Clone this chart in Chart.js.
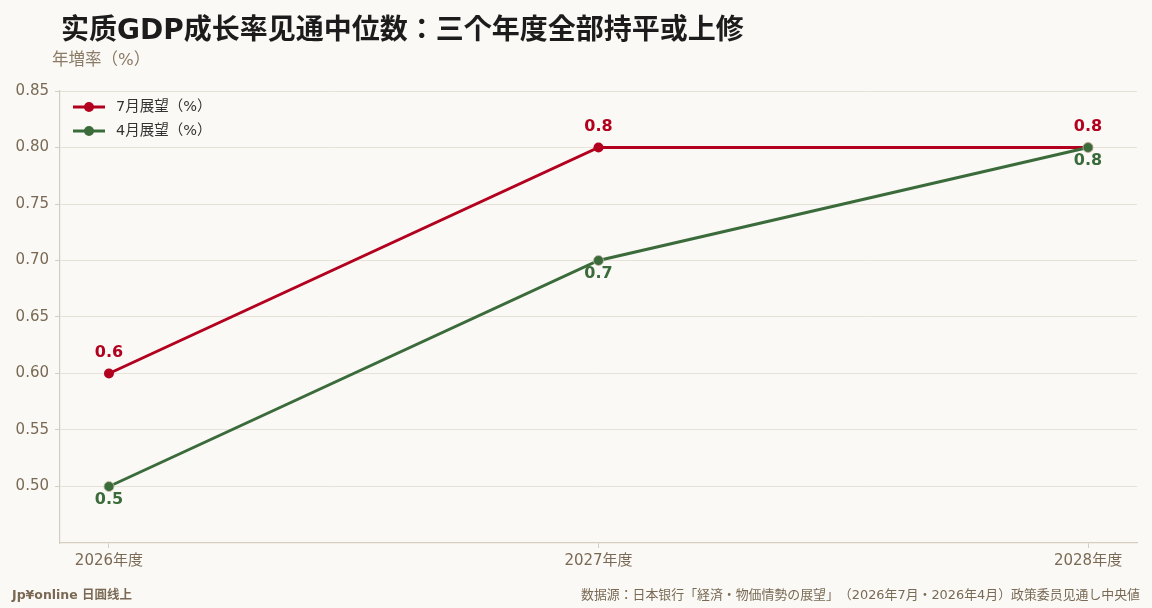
<!DOCTYPE html>
<html>
<head>
<meta charset="utf-8">
<script src="https://cdn.jsdelivr.net/npm/chart.js@4.4.1/dist/chart.umd.min.js"></script>
<style>
  html, body { margin: 0; padding: 0; background: #faf9f5; }
  body { width: 1152px; height: 608px; position: relative; overflow: hidden;
         font-family: "DejaVu Sans", "Noto Sans CJK JP", sans-serif;
         text-spacing-trim: space-all; }
  #wrap { position: absolute; left: 0; top: 0; width: 1152px; height: 608px; }
  .txt { position: absolute; white-space: nowrap; line-height: 1.2; }
  #title { left: 61px; top: 13px; font-size: 28px; font-weight: bold; color: #1c1c1c; }
  #unit { left: 52px; top: 50px; font-size: 16.5px; color: #8a7a66; }
  #brand { left: 12px; top: 587px; font-size: 12.5px; font-weight: bold; color: #7a6a55; }
  #source { right: 12px; top: 587px; font-size: 12.9px; color: #7a6a55; }
</style>
</head>
<body>
<div id="wrap"><canvas id="chart"></canvas></div>
<div class="txt" id="title">实质GDP成长率见通中位数：三个年度全部持平或上修</div>
<div class="txt" id="unit">年増率（%）</div>
<div class="txt" id="brand">Jp¥online 日圓线上</div>
<div class="txt" id="source">数据源：日本银行「経済・物価情勢の展望」（2026年7月・2026年4月）政策委员见通し中央値</div>
<script>
const categories = ["2026年度", "2027年度", "2028年度"];
const julyOutlook = [0.6, 0.8, 0.8];
const aprilOutlook = [0.5, 0.7, 0.8];
const seriesNames = ["7月展望（%）", "4月展望（%）"];

const RED = "#b3001e";
const GREEN = "#3b6b3b";
const TICK = "#7a6a55";
const GRID = "#e7e2d8";
const AXIS = "#d5cdbf";
const FONT = "'DejaVu Sans', 'Noto Sans CJK JP', sans-serif";

const toPoints = arr => arr.map((v, i) => ({ x: i, y: v }));

// value labels: red above, green below
const valueLabels = {
  id: "valueLabels",
  afterDatasetsDraw(chart) {
    const ctx = chart.ctx;
    ctx.save();
    ctx.font = "bold 16px " + FONT;
    ctx.textAlign = "center";
    ctx.textBaseline = "middle";
    chart.data.datasets.forEach((ds, di) => {
      const meta = chart.getDatasetMeta(di);
      ctx.fillStyle = ds.borderColor;
      meta.data.forEach((pt, i) => {
        const dy = ds.labelPos === "above" ? -21 : 13;
        ctx.fillText(ds.data[i].y.toFixed(1), pt.x, pt.y + dy);
      });
    });
    ctx.restore();
  }
};

// legend drawn inside the plot, top-left
const innerLegend = {
  id: "innerLegend",
  afterDraw(chart) {
    const ctx = chart.ctx;
    const left = chart.chartArea.left + 13;
    let y = chart.chartArea.top + 16;
    ctx.save();
    ctx.font = "14.5px " + FONT;
    ctx.textBaseline = "middle";
    chart.data.datasets.forEach(ds => {
      ctx.strokeStyle = ds.borderColor;
      ctx.lineWidth = 3;
      ctx.beginPath();
      ctx.moveTo(left, y);
      ctx.lineTo(left + 32, y);
      ctx.stroke();
      ctx.fillStyle = ds.borderColor;
      ctx.beginPath();
      ctx.arc(left + 16, y, 5, 0, Math.PI * 2);
      ctx.fill();
      ctx.fillStyle = "#333";
      ctx.fillText(ds.label, left + 43, y);
      y += 24;
    });
    ctx.restore();
  }
};

new Chart(document.getElementById("chart"), {
  type: "line",
  data: {
    datasets: [
      {
        label: seriesNames[0],
        data: toPoints(julyOutlook),
        borderColor: RED,
        backgroundColor: RED,
        borderWidth: 3,
        pointRadius: 5,
        pointBorderWidth: 0,
        labelPos: "above",
        order: 1
      },
      {
        label: seriesNames[1],
        data: toPoints(aprilOutlook),
        borderColor: GREEN,
        backgroundColor: GREEN,
        borderWidth: 3,
        pointRadius: 5,
        pointBorderColor: "#c9bda8",
        pointBorderWidth: 0.8,
        labelPos: "below",
        order: 0
      }
    ]
  },
  options: {
    responsive: true,
    maintainAspectRatio: false,
    animation: false,
    layout: { padding: { top: 91, right: 15, bottom: 22, left: 0 } },
    plugins: {
      legend: { display: false },
      tooltip: { enabled: false }
    },
    scales: {
      x: {
        type: "linear",
        min: -0.1,
        max: 2.1,
        afterBuildTicks: axis => { axis.ticks = categories.map((c, i) => ({ value: i })); },
        ticks: {
          color: TICK,
          font: { family: FONT, size: 15 },
          padding: 4,
          callback: v => categories[v] || ""
        },
        grid: { drawOnChartArea: false, drawTicks: true, tickLength: 5, color: AXIS },
        border: { color: AXIS, width: 1.2 },
        afterFit: axis => { axis.height = 43; }
      },
      y: {
        min: 0.45,
        max: 0.85,
        ticks: {
          stepSize: 0.05,
          color: TICK,
          font: { family: FONT, size: 15 },
          padding: 6,
          callback: v => (v < 0.47 ? "" : v.toFixed(2))
        },
        grid: {
          color: ctx => (ctx.tick && ctx.tick.value < 0.47 ? "rgba(0,0,0,0)" : GRID),
          tickLength: 5,
          tickColor: ctx => (ctx.tick && ctx.tick.value < 0.47 ? "rgba(0,0,0,0)" : AXIS)
        },
        border: { color: AXIS, width: 1.2 },
        afterFit: axis => { axis.width = 60; }
      }
    }
  },
  plugins: [valueLabels, innerLegend]
});
</script>
</body>
</html>
